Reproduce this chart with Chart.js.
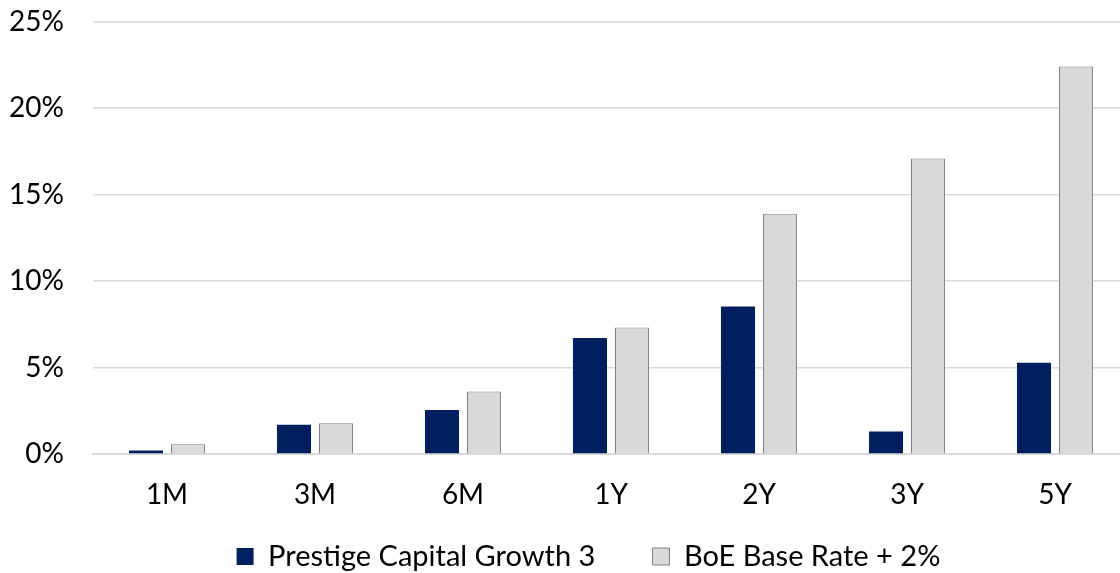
<!DOCTYPE html>
<html>
<head>
<meta charset="utf-8">
<script src="https://cdn.jsdelivr.net/npm/chart.js@4"></script>
<style>
  html, body { margin: 0; padding: 0; background: #fff; overflow: hidden; }
  /* the plot runs a few pixels past the right edge in the original */
  #wrap { width: 1129px; height: 573px; }
</style>
</head>
<body>
<div id="wrap"><canvas id="perfChart" width="1129" height="573"></canvas></div>
<script>
const periods = ["1M", "3M", "6M", "1Y", "2Y", "3Y", "5Y"];
const prestige = [0.2, 1.69, 2.55, 6.71, 8.53, 1.3, 5.28];
const boeRate = [0.57, 1.78, 3.61, 7.32, 13.9, 17.1, 22.41];
const yTicks = [0, 5, 10, 15, 20, 25];

const FONT = "Lato, 'Noto Sans', sans-serif";

// the original legend sits a little right of centre
const legendShift = {
  id: "legendShift",
  afterLayout(chart) {
    chart.legend.left += 24;
    chart.legend.right += 24;
  },
};

new Chart(document.getElementById("perfChart").getContext("2d"), {
  type: "bar",
  data: {
    labels: periods,
    datasets: [
      {
        label: "Prestige Capital Growth 3",
        data: prestige,
        backgroundColor: "#002060",
        borderColor: "#002060",
        borderWidth: 0,
        barPercentage: 0.81,
        categoryPercentage: 0.568,
      },
      {
        label: "BoE Base Rate + 2%",
        data: boeRate,
        backgroundColor: "#d9d9d9",
        borderColor: "#7f7f7f",
        borderWidth: 1,
        barPercentage: 0.81,
        categoryPercentage: 0.568,
      },
    ],
  },
  plugins: [legendShift],
  options: {
    responsive: false,
    animation: false,
    layout: { padding: { top: 0, right: 0, bottom: -8, left: 0 } },
    plugins: {
      tooltip: { enabled: false },
      legend: {
        position: "bottom",
        labels: {
          color: "#000",
          font: { family: FONT, size: 29 },
          boxWidth: 17,
          boxHeight: 17,
          padding: 20,
          // widen the gap after the first entry, like the original legend
          generateLabels: (chart) => {
            const items = Chart.defaults.plugins.legend.labels.generateLabels(chart);
            items[0].text = items[0].text + "     ";
            return items;
          },
        },
      },
    },
    scales: {
      x: {
        grid: { display: false },
        border: { color: "#d9d9d9", width: 2 },
        afterFit: (axis) => { axis.height = 68; },
        ticks: { color: "#000", font: { family: FONT, size: 28 }, padding: 16 },
      },
      y: {
        min: 0,
        max: 25,
        afterBuildTicks: (axis) => { axis.ticks = yTicks.map((v) => ({ value: v })); },
        afterFit: (axis) => { axis.width = 93; },
        grid: {
          color: "#d9d9d9",
          lineWidth: 1.5,
          drawTicks: true,
          tickLength: 24,
          tickColor: "rgba(0,0,0,0)",
        },
        border: { display: false },
        ticks: {
          color: "#000",
          font: { family: FONT, size: 28 },
          padding: 5,
          callback: (v) => v + "%",
        },
      },
    },
  },
});
</script>
</body>
</html>
